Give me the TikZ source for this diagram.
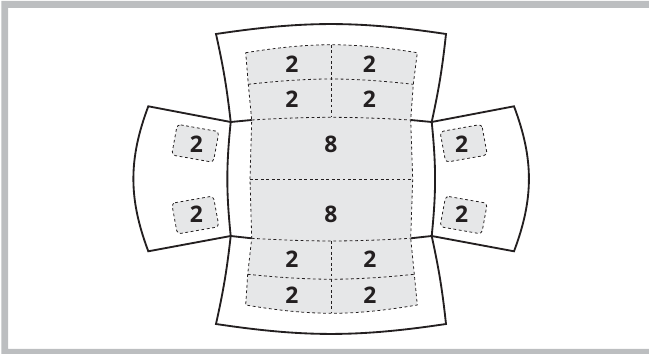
\documentclass[tikz,border=0pt]{standalone}
\usepackage{fontspec}
\setmainfont{Open Sans}
\usetikzlibrary{calc}
\definecolor{Ink}{HTML}{231F20}
\definecolor{Band}{HTML}{BCBEC0}
\definecolor{Zone}{HTML}{E6E7E8}
\begin{document}
\begin{tikzpicture}[
      x=0.02cm, y=-0.02cm,
      outline/.style={draw=Ink, line width=1.05pt, line join=miter},
      zone/.style={fill=Zone},
      cut/.style={draw=Ink, line width=0.45pt, dash pattern=on 1.6pt off 1.5pt},
      pad/.style={fill=Zone, draw=Ink, line width=0.45pt, dash pattern=on 1.6pt off 1.5pt, rounded corners=2pt},
      num/.style={font=\fontsize{13}{13}\selectfont\bfseries, text=Ink, inner sep=0pt}
    ]
      \useasboundingbox (0,0) rectangle (649,354);
      \fill[Band, even odd rule] (1.3,1) rectangle (649,354) (8,8) rectangle (649,349);

      % joints of the outer outline
      \coordinate (jtl) at (230.7,122);
      \coordinate (jtr) at (431.7,122);
      \coordinate (jbl) at (230.7,236);
      \coordinate (jbr) at (431.7,236);

      % edges of the shaded block, left and right side
      \coordinate (l1) at (245.7,52.7);
      \coordinate (l2) at (248.3,84.3);
      \coordinate (l3) at (251.7,120);
      \coordinate (l4) at (250,179);
      \coordinate (l5) at (251.7,238.3);
      \coordinate (l6) at (247.7,274.3);
      \coordinate (l7) at (245.7,305);
      \coordinate (r1) at (417.3,52.7);
      \coordinate (r2) at (413.3,84.3);
      \coordinate (r3) at (410.7,120);
      \coordinate (r4) at (412.7,179);
      \coordinate (r5) at (410.7,238.3);
      \coordinate (r6) at (414.3,274.3);
      \coordinate (r7) at (417.3,305);

      \fill[zone] (l1) to[bend left=9.1] (r1) -- (r2) -- (r3) -- (r4) -- (r5) -- (r6) -- (r7)
        to[bend left=9.5] (l7) -- (l6) -- (l5) -- (l4) -- (l3) -- (l2) -- cycle;
      \draw[cut] (l1) to[bend left=9.1] (r1) -- (r2) -- (r3) -- (r4) -- (r5) -- (r6) -- (r7)
        to[bend left=9.5] (l7) -- (l6) -- (l5) -- (l4) -- (l3) -- (l2) -- cycle;
      \draw[cut] (l2) to[bend left=6.3] (r2);
      \draw[cut] (l3) to[bend left=3.3] (r3);
      \draw[cut] (l4) -- (r4);
      \draw[cut] (l5) to[bend right=3.3] (r5);
      \draw[cut] (l6) to[bend right=5.8] (r6);
      \draw[cut] (331,44.7) -- (331,117.3);
      \draw[cut] (331,241) -- (331,313.3);

      % small pads on the wings
      \draw[pad] (177.3,124.3) -- (219,131.7) -- (213.3,162.3) -- (171.7,155) -- cycle;
      \draw[pad] (171.7,203.3) -- (213.3,196) -- (219,226.7) -- (177.3,234) -- cycle;
      \draw[pad] (481.7,124.3) -- (487.3,155) -- (445.7,162.3) -- (440,131.7) -- cycle;
      \draw[pad] (445.7,196) -- (487.3,203.3) -- (481.7,234) -- (440,226.7) -- cycle;

      % outer outline
      \draw[outline] (jtl) to[bend right=3] (216,34) to[bend left=8.5] (446,34) to[bend left=3] (jtr);
      \draw[outline] (jbl) to[bend left=3] (216,324) to[bend right=8.5] (446,324) to[bend right=3] (jbr);
      \draw[outline] (jtl) -- (148.3,106.3) to[bend right=20.6] (148.3,251.3) -- (jbl);
      \draw[outline] (jtr) -- (514,106.3) to[bend left=20.6] (514,251.3) -- (jbr);
      \draw[outline] (jtl) to[bend right=5.8] (jbl);
      \draw[outline] (jtr) to[bend left=5.8] (jbr);
      \draw[outline] (jtl) -- (l3);
      \draw[outline] (jtr) -- (r3);
      \draw[outline] (jbl) -- (l5);
      \draw[outline] (jbr) -- (r5);

      \node[num] (a1) at (292,64.3) {2};
      \node[num] (a2) at (369.3,64.3) {2};
      \node[num] (b1) at (292,99.3) {2};
      \node[num] (b2) at (369.3,99.3) {2};
      \node[num] (c1) at (331,144) {8};
      \node[num] (c2) at (331,214) {8};
      \node[num] (d1) at (292,259.3) {2};
      \node[num] (d2) at (370,259.3) {2};
      \node[num] (e1) at (292,295.3) {2};
      \node[num] (e2) at (370,295.3) {2};
      \node[num] (w1) at (196.3,144.3) {2};
      \node[num] (w2) at (196.3,214) {2};
      \node[num] (w3) at (461.7,144.3) {2};
      \node[num] (w4) at (461.7,214) {2};
    \end{tikzpicture}
\end{document}
